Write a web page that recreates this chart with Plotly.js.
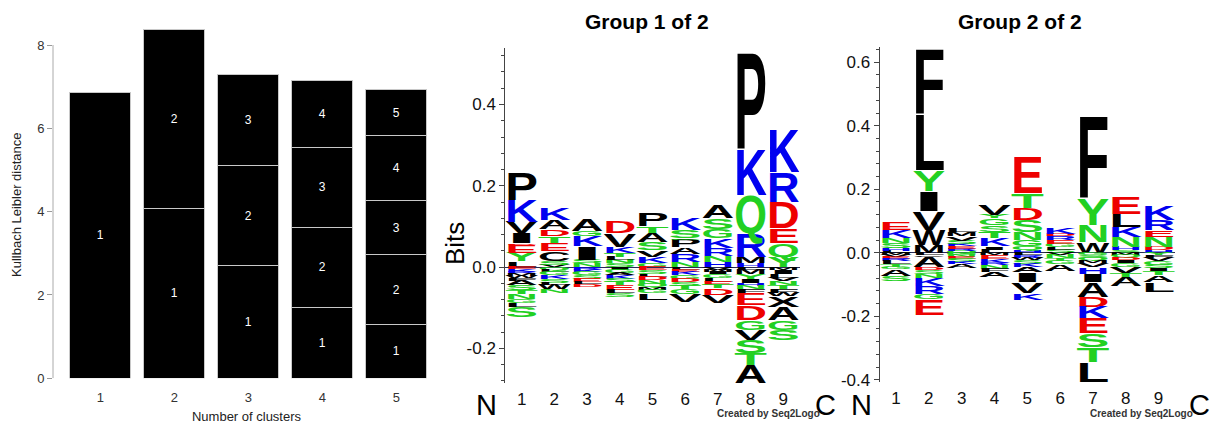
<!DOCTYPE html>
<html><head><meta charset="utf-8">
<script src="https://cdn.plot.ly/plotly-3.0.1.min.js"></script>
<style>html,body{margin:0;padding:0;background:#fff}#chart{width:1213px;height:429px}</style>
</head><body><div id="chart"></div>
<script>
const W = 1213, H = 429;

// ---------- Left panel: Kullback-Leibler distance per number of clusters ----------
const clusterCounts = [1, 2, 3, 4, 5];
const layer1 = [6.86, 4.08, 2.70, 1.69, 1.30];
const layer2 = [null, 4.30, 2.40, 1.94, 1.66];
const layer3 = [null, null, 2.20, 1.92, 1.30];
const layer4 = [null, null, null, 1.59, 1.56];
const layer5 = [null, null, null, null, 1.11];
const layers = [layer1, layer2, layer3, layer4, layer5];

// ---------- Sequence logos ----------
const positions = [1, 2, 3, 4, 5, 6, 7, 8, 9];

// Group 1 of 2 : letters above zero (bottom -> top) and below zero (top -> bottom)
const g1UpLetters = ["LYEDIVKP", "VSCETDAK", "NSIKGA", "SNLTKVD", "GKVSATP", "NRAPGSK", "HNRKGSA", "HMRQKP", "YQEDRK"];
const g1UpBits = [
  [0.014, 0.021, 0.020, 0.004, 0.025, 0.028, 0.054, 0.069],
  [0.006, 0.010, 0.024, 0.020, 0.017, 0.016, 0.023, 0.029],
  [0.010, 0.008, 0.033, 0.025, 0.013, 0.029],
  [0.010, 0.008, 0.008, 0.008, 0.016, 0.033, 0.029],
  [0.010, 0.016, 0.017, 0.020, 0.021, 0.016, 0.033],
  [0.012, 0.020, 0.017, 0.018, 0.004, 0.020, 0.028],
  [0.012, 0.016, 0.020, 0.023, 0.024, 0.025, 0.033],
  [0.010, 0.016, 0.058, 0.094, 0.115, 0.241],
  [0.026, 0.033, 0.037, 0.065, 0.074, 0.107]
];
const g1DownLetters = ["EKRMWFASTNGLS", "QLGKSLWN", "RKGSELD", "IGAKSTELS", "ESLDNQMGL", "LEKGDSTGV", "VMIGLETDV", "LMYIHNFEDGVSTA", "MILVNTFWXAGS"];
const g1DownBits = [
  [0.005, 0.006, 0.005, 0.006, 0.005, 0.006, 0.012, 0.012, 0.010, 0.012, 0.010, 0.008, 0.025],
  [0.006, 0.006, 0.008, 0.008, 0.010, 0.005, 0.012, 0.008],
  [0.006, 0.006, 0.008, 0.008, 0.008, 0.006, 0.006],
  [0.006, 0.008, 0.006, 0.008, 0.008, 0.008, 0.012, 0.008, 0.010],
  [0.008, 0.010, 0.006, 0.008, 0.010, 0.008, 0.006, 0.008, 0.016],
  [0.006, 0.006, 0.008, 0.008, 0.008, 0.010, 0.008, 0.012, 0.020],
  [0.006, 0.006, 0.006, 0.008, 0.010, 0.008, 0.008, 0.016, 0.020],
  [0.006, 0.012, 0.012, 0.010, 0.006, 0.008, 0.010, 0.030, 0.036, 0.024, 0.025, 0.033, 0.028, 0.045],
  [0.006, 0.010, 0.010, 0.008, 0.010, 0.010, 0.010, 0.008, 0.025, 0.033, 0.024, 0.025]
];

// Group 2 of 2
const g2UpLetters = ["LHSNKE", "MWVIYLF", "QREKSVML", "LIKTSGYV", "HQGNSDTE", "SLGERDK", "WNYF", "SHNKLE", "HDNERK"];
const g2UpBits = [
  [0.006, 0.008, 0.016, 0.018, 0.025, 0.025],
  [0.024, 0.048, 0.058, 0.063, 0.067, 0.180, 0.209],
  [0.006, 0.006, 0.008, 0.008, 0.010, 0.014, 0.012, 0.012],
  [0.010, 0.010, 0.025, 0.020, 0.022, 0.022, 0.010, 0.031],
  [0.008, 0.012, 0.020, 0.026, 0.037, 0.037, 0.047, 0.115],
  [0.010, 0.008, 0.010, 0.012, 0.012, 0.008, 0.020],
  [0.035, 0.053, 0.084, 0.262],
  [0.008, 0.010, 0.031, 0.032, 0.042, 0.052],
  [0.008, 0.010, 0.031, 0.022, 0.031, 0.047]
];
const g2DownLetters = ["MVERLTGAS", "LCADSNKRGE", "GNESKA", "MEKRNFA", "LRWSKAIVK", "VNTGA", "GSQMVHIADKESTL", "MQDIGVTA", "YFVGSITAL"];
const g2DownBits = [
  [0.008, 0.006, 0.006, 0.006, 0.010, 0.008, 0.008, 0.020, 0.016],
  [0.008, 0.005, 0.033, 0.008, 0.012, 0.012, 0.026, 0.026, 0.015, 0.050],
  [0.008, 0.006, 0.006, 0.010, 0.006, 0.012],
  [0.008, 0.012, 0.012, 0.008, 0.010, 0.010, 0.016],
  [0.008, 0.008, 0.008, 0.010, 0.010, 0.018, 0.030, 0.035, 0.021],
  [0.008, 0.010, 0.008, 0.010, 0.022],
  [0.008, 0.008, 0.008, 0.008, 0.012, 0.022, 0.025, 0.047, 0.032, 0.036, 0.048, 0.042, 0.047, 0.064],
  [0.006, 0.008, 0.008, 0.010, 0.012, 0.020, 0.012, 0.030],
  [0.008, 0.008, 0.010, 0.012, 0.010, 0.010, 0.012, 0.022, 0.030]
];

// colour scheme (style)
const BLK = '#000000', BLU = '#0000f0', RED = '#ee0000', GRN = '#22d022';
const aaColor = {A: BLK, V: BLK, L: BLK, I: BLK, P: BLK, W: BLK, F: BLK, M: BLK, C: BLK, X: BLK,
                 K: BLU, R: BLU, H: BLU, D: RED, E: RED,
                 G: GRN, S: GRN, T: GRN, Y: GRN, N: GRN, Q: GRN};

const fx = px => px / W;
const fy = py => 1 - py / H;

function buildLogo(upL, upB, dnL, dnB) {
  const xs = [], ys = [], txt = [], cols = [], hs = [];
  positions.forEach((p, i) => {
    let c = 0;
    upL[i].split('').forEach((ch, j) => {
      const h = upB[i][j];
      xs.push(p); ys.push(c); txt.push(ch); cols.push(aaColor[ch]); hs.push(h);
      c += h;
    });
    c = 0;
    dnL[i].split('').forEach((ch, j) => {
      const h = dnB[i][j];
      c += h;
      xs.push(p); ys.push(-c); txt.push(ch); cols.push(aaColor[ch]); hs.push(h);
    });
  });
  return {xs, ys, txt, cols, hs};
}

const logo1 = buildLogo(g1UpLetters, g1UpBits, g1DownLetters, g1DownBits);
const logo2 = buildLogo(g2UpLetters, g2UpBits, g2DownLetters, g2DownBits);
const FS = 40;

const traces = [];
layers.forEach((arr, k) => {
  traces.push({
    type: 'bar', x: clusterCounts, y: arr, width: 0.824,
    marker: {color: '#000000', line: {color: '#c8c8c8', width: 1}},
    text: arr.map(v => v == null ? '' : String(k + 1)),
    textposition: 'inside', insidetextanchor: 'middle', textangle: 0,
    constraintext: 'none',
    textfont: {color: '#ffffff', size: 12, family: 'Liberation Sans, Arial, sans-serif'},
    cliponaxis: false, hoverinfo: 'skip', showlegend: false, xaxis: 'x', yaxis: 'y'
  });
});
[[logo1, 'x2', 'y2'], [logo2, 'x3', 'y3']].forEach(([lg, xa, ya]) => {
  traces.push({
    type: 'scatter', mode: 'text', x: lg.xs, y: lg.ys, text: lg.txt, customdata: lg.hs,
    textposition: 'middle center',
    textfont: {color: lg.cols, size: FS, family: 'Liberation Sans, Arial, sans-serif', weight: 'bold'},
    cliponaxis: false, hoverinfo: 'skip', showlegend: false, xaxis: xa, yaxis: ya
  });
});

const tickFontLogo = {family: 'Liberation Sans, Arial, sans-serif', size: 17, color: '#111'};
function logoY(dom, range, vals) {
  return {
    domain: dom, range: range,
    showgrid: false, zeroline: true, zerolinecolor: '#2a2a55', zerolinewidth: 1,
    showline: true, linecolor: '#444', linewidth: 1,
    ticks: 'outside', ticklen: 5, tickcolor: '#444', tickwidth: 1,
    tickmode: 'array', tickvals: vals, ticktext: vals.map(v => v.toFixed(1)),
    minor: {tickmode: 'linear', tick0: 0, dtick: 0.04, ticks: 'outside', ticklen: 3, tickcolor: '#444', tickwidth: 1},
    tickfont: tickFontLogo, fixedrange: true
  };
}
function logoX(dom) {
  return {
    domain: dom, range: [0.5, 9.5], showgrid: false, zeroline: false, showline: false,
    tickmode: 'array', tickvals: positions, ticktext: positions.map(String),
    ticks: 'outside', ticklen: 1, tickcolor: 'rgba(0,0,0,0)',
    tickfont: tickFontLogo, fixedrange: true
  };
}

const ax1Y = logoY([fy(383), fy(48)], [-0.285, 0.539], [-0.2, 0, 0.2, 0.4]);
ax1Y.anchor = 'x2';
const ax2Y = logoY([fy(382), fy(46.7)], [-0.407, 0.649], [-0.4, -0.2, 0, 0.2, 0.4, 0.6]);
ax2Y.anchor = 'x3';
const ax1X = logoX([fx(505.3), fx(799.6)]); ax1X.anchor = 'y2';
const ax2X = logoX([fx(879.6), fx(1175)]); ax2X.anchor = 'y3';

const baseFont = 'Liberation Sans, Arial, sans-serif';
const ann = (text, xpx, ypx, size, opts) => Object.assign({
  text: text, xref: 'paper', yref: 'paper', x: fx(xpx), y: fy(ypx),
  xanchor: 'center', yanchor: 'middle', showarrow: false,
  font: {family: baseFont, size: size, color: '#000'}
}, opts || {});

const layout = {
  width: W, height: H, margin: {l: 0, r: 0, t: 0, b: 0},
  paper_bgcolor: '#ffffff', plot_bgcolor: 'rgba(0,0,0,0)',
  barmode: 'stack', bargap: 0, showlegend: false,
  xaxis: {
    domain: [fx(53), fx(440)], range: [0.361, 5.591], anchor: 'y',
    tickvals: clusterCounts, ticktext: clusterCounts.map(String),
    ticks: 'outside', ticklen: 7, tickcolor: 'rgba(0,0,0,0)',
    showline: false, showgrid: false, zeroline: false,
    tickfont: {family: baseFont, size: 13, color: '#333'},
    title: {text: 'Number of clusters', font: {family: baseFont, size: 13, color: '#222'}, standoff: 7},
    fixedrange: true
  },
  yaxis: {
    domain: [fy(378.3), fy(26)], range: [0, 8.456], anchor: 'x',
    tickvals: [0, 2, 4, 6, 8], ticktext: ['0', '2', '4', '6', '8'],
    ticks: 'outside', ticklen: 5, tickcolor: '#999', tickwidth: 1,
    showline: false, showgrid: false, zeroline: false,
    tickfont: {family: baseFont, size: 13, color: '#333'},
    fixedrange: true
  },
  xaxis2: ax1X, yaxis2: ax1Y, xaxis3: ax2X, yaxis3: ax2Y,
  shapes: [
    {type: 'line', xref: 'paper', yref: 'y', x0: fx(53), x1: fx(53), y0: 0, y1: 8,
     line: {color: '#aaaaaa', width: 1}}
  ],
  annotations: [
    ann('Kullbach Leibler distance', 17, 205, 13, {textangle: -90, font: {family: baseFont, size: 13, color: '#222'}}),
    ann('<b>Group 1 of 2</b>', 646.7, 21.7, 21),
    ann('<b>Group 2 of 2</b>', 1020, 21.5, 21),
    ann('Bits', 455, 244, 26, {textangle: -90}),
    ann('N', 486, 405, 29),
    ann('N', 861, 405, 29),
    ann('<b>Created by Seq2Logo</b>', 715, 413.5, 10, {xanchor: 'left', font: {family: baseFont, size: 10, color: '#333'}}),
    ann('<b>Created by Seq2Logo</b>', 1088, 413.5, 10, {xanchor: 'left', font: {family: baseFont, size: 10, color: '#333'}}),
    ann('C', 825, 405, 29),
    ann('C', 1199, 405, 29)
  ]
};

const gd = document.getElementById('chart');

function stretchLetters() {
  const fl = gd._fullLayout;
  const CAP = 0.716;
  gd.querySelectorAll('.scatterlayer .trace').forEach(tg => {
    const cd = tg.__data__;
    if (!cd || !cd[0] || !cd[0].trace) return;
    const tr = cd[0].trace;
    if (tr.mode !== 'text') return;
    const xa = fl['xaxis' + tr.xaxis.slice(1)];
    const ya = fl['yaxis' + tr.yaxis.slice(1)];
    const pxU = ya._length / (ya.range[1] - ya.range[0]);
    const colW = xa._length / (xa.range[1] - xa.range[0]);
    const texts = tg.querySelectorAll('.textpoint text');
    texts.forEach((t, k) => {
      const d = t.__data__ || (t.parentNode && t.parentNode.__data__) || {};
      const i = (typeof d.i === 'number') ? d.i : k;
      const h = tr.customdata[i];
      const x = parseFloat(t.getAttribute('x'));
      const y = parseFloat(t.getAttribute('y'));
      t.parentNode.setAttribute('transform', '');
      t.setAttribute('x', 0);
      t.setAttribute('y', 0);
      t.setAttribute('text-anchor', 'middle');
      t.style.fontWeight = 'bold';
      const adv = t.getComputedTextLength() || FS * 0.7;
      const sx = (colW * 1.0) / adv;
      const sy = (h * pxU) / (CAP * FS);
      t.setAttribute('transform', 'translate(' + x + ',' + y + ') scale(' + sx + ',' + sy + ')');
    });
  });
}

Plotly.newPlot(gd, traces, layout, {staticPlot: true, displayModeBar: false}).then(stretchLetters);
</script>
</body></html>
